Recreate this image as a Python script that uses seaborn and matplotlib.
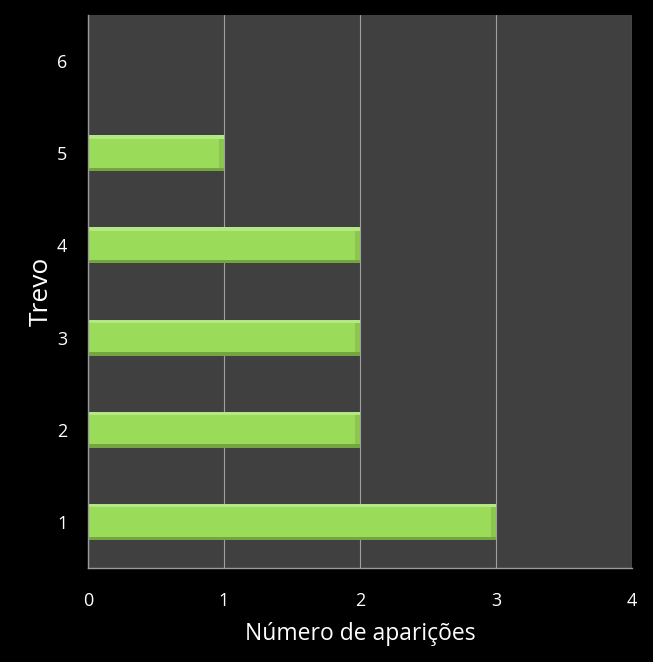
import matplotlib
matplotlib.use("Agg")
import matplotlib.pyplot as plt
import seaborn as sns
import pandas as pd
from matplotlib.patches import Rectangle

categories = ["6", "5", "4", "3", "2", "1"]
values = [0, 1, 2, 2, 2, 3]
xticks = [0, 1, 2, 3, 4]

sns.set_theme(style="dark")
plt.rcParams["font.family"] = ["Open Sans", "DejaVu Sans"]

df = pd.DataFrame({"Trevo": categories, "n": values})

fig = plt.figure(figsize=(6.53, 6.62), dpi=100, facecolor="black")
ax = fig.add_axes([88/653, (662-568)/662, (632-88)/653, (568-15)/662])
ax.set_facecolor("#404040")

sns.barplot(data=df, y="Trevo", x="n", order=categories, color="#9bdb5a",
            saturation=1, width=0.39, ax=ax, edgecolor="none")

# bevel highlights derived from the drawn bars
for p in list(ax.patches):
    x0, y0 = p.get_x(), p.get_y()
    w, h = p.get_width(), p.get_height()
    if w <= 0:
        continue
    z = p.get_zorder() + 0.1
    ax.add_patch(Rectangle((x0, y0), w, h * 0.09, color="#b4e884", lw=0, zorder=z))
    ax.add_patch(Rectangle((x0, y0 + h * 0.91), w, h * 0.09, color="#74a640", lw=0, zorder=z))
    ax.add_patch(Rectangle((x0 + w - 0.04, y0 + h * 0.09), 0.04, h * 0.82, color="#8cc650", lw=0, zorder=z))

ax.set_xlim(0, 4)
ax.set_ylim(5.5, -0.5)
ax.set_xticks(xticks)
ax.set_xticklabels([str(t) for t in xticks])
ax.xaxis.grid(True, color="#a0a0a0", linewidth=0.8)
ax.yaxis.grid(False)
ax.set_axisbelow(True)

for s in ["top", "right"]:
    ax.spines[s].set_visible(False)
for s in ["left", "bottom"]:
    ax.spines[s].set_visible(True)
    ax.spines[s].set_color("#9a9a9a")
    ax.spines[s].set_linewidth(1)

ax.tick_params(axis="both", colors="white", labelsize=13, length=0)
ax.tick_params(axis="x", pad=17)
ax.tick_params(axis="y", pad=15)
ax.set_xlabel("Número de aparições", color="white", fontsize=16.5, labelpad=9)
ax.set_ylabel("Trevo", color="white", fontsize=19, labelpad=2)

fig.savefig("out.png", dpi=100, facecolor="black")
